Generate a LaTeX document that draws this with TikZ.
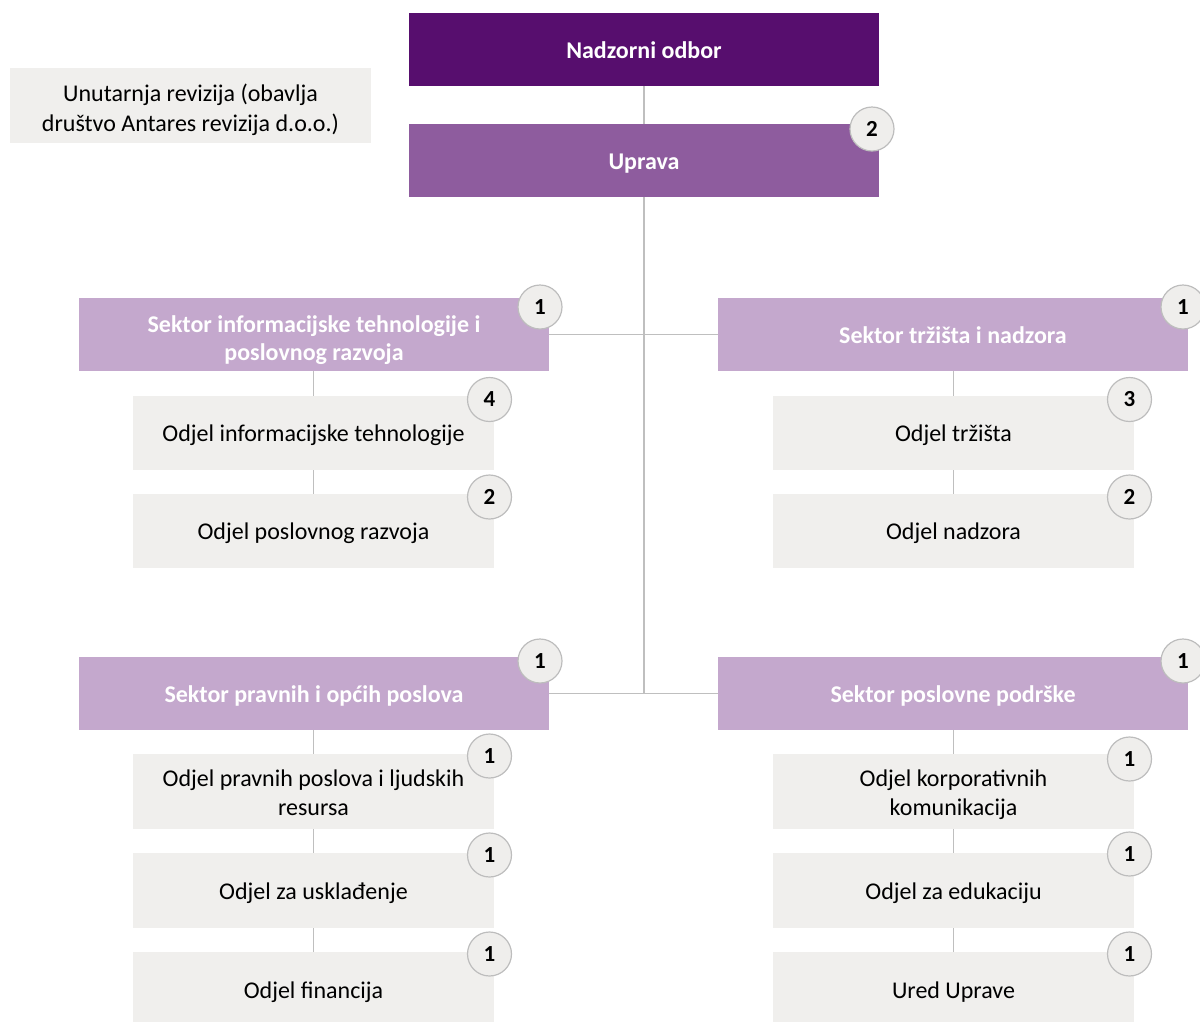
\documentclass[tikz,border=0pt]{standalone}
\usepackage{fontspec}
\setmainfont{Carlito}
\definecolor{darkp}{HTML}{570E6E}
\definecolor{midp}{HTML}{8E5C9E}
\definecolor{lightp}{HTML}{C4A8CD}
\definecolor{greybox}{HTML}{F0EFED}
\definecolor{circfill}{HTML}{EFEEEC}
\definecolor{circline}{HTML}{BDBDBD}
\definecolor{linec}{HTML}{BFBFBF}
\begin{document}
\begin{tikzpicture}[x=1pt,y=-1pt,
  topbox/.style={minimum width=470pt,minimum height=73pt,inner sep=0pt,align=center,
     text=white,font=\fontsize{24}{28}\selectfont\bfseries,text height=20pt,text depth=3pt},
  subbox/.style={fill=greybox,minimum width=361pt,minimum height=74pt,inner sep=0pt,align=center,
     font=\fontsize{24}{29}\selectfont,text height=20pt,text depth=3pt},
  twoline/.style={text height=50pt},
  badge/.style={circle,fill=circfill,draw=circline,line width=1.2pt,minimum size=44pt,inner sep=0pt,
     font=\fontsize{23}{26}\selectfont\bfseries},
  conn/.style={draw=linec,line width=1.8pt}]
\useasboundingbox (0,0) rectangle (1200,1021);
\clip (0,0) rectangle (1200,1021);
% boxes
\node[topbox,fill=darkp] (nad) at (644,49.5) {Nadzorni odbor};
\node[topbox,fill=midp] (upr) at (644,160.5) {Uprava};
\node[subbox,minimum height=75pt,font=\fontsize{24}{30}\selectfont,text height=54pt] (rev) at (190.5,105.5) {Unutarnja revizija (obavlja\\dru\v{s}tvo Antares revizija d.o.o.)};
\node[topbox,fill=lightp,text height=54pt] (sit) at (314,334.5) {Sektor informacijske tehnologije i\\poslovnog razvoja};
\node[topbox,fill=lightp] (str) at (953,334.5) {Sektor tr\v{z}i\v{s}ta i nadzora};
\node[topbox,fill=lightp] (spo) at (314,693.5) {Sektor pravnih i op\'{c}ih poslova};
\node[topbox,fill=lightp] (spp) at (953,693.5) {Sektor poslovne podr\v{s}ke};
\node[subbox] (oit) at (313.5,433) {Odjel informacijske tehnologije};
\node[subbox] (opr) at (313.5,531) {Odjel poslovnog razvoja};
\node[subbox,minimum height=75pt,twoline] (opl) at (313.5,791.5) {Odjel pravnih poslova i ljudskih\\resursa};
\node[subbox,minimum height=75pt] (ous) at (313.5,890.5) {Odjel za uskla\dj{}enje};
\node[subbox,minimum height=75pt] (ofi) at (313.5,989.5) {Odjel financija};
\node[subbox] (otr) at (953.5,433) {Odjel tr\v{z}i\v{s}ta};
\node[subbox] (ona) at (953.5,531) {Odjel nadzora};
\node[subbox,minimum height=75pt,twoline] (oko) at (953.5,791.5) {Odjel korporativnih\\komunikacija};
\node[subbox,minimum height=75pt] (oed) at (953.5,890.5) {Odjel za edukaciju};
\node[subbox,minimum height=75pt] (our) at (953.5,989.5) {Ured Uprave};
% connectors
\coordinate (trunk) at (644,693.5);
\draw[conn] (nad.south) -- (upr.north);
\draw[conn] (upr.south) -- (trunk);
\draw[conn] (sit.east) -- (str.west);
\draw[conn] (spo.east) -- (spp.west);
\draw[conn] (sit.south -| oit.north) -- (oit.north);
\draw[conn] (oit.south) -- (opr.north);
\draw[conn] (str.south -| otr.north) -- (otr.north);
\draw[conn] (otr.south) -- (ona.north);
\draw[conn] (spo.south -| opl.north) -- (opl.north);
\draw[conn] (opl.south) -- (ous.north);
\draw[conn] (ous.south) -- (ofi.north);
\draw[conn] (spp.south -| oko.north) -- (oko.north);
\draw[conn] (oko.south) -- (oed.north);
\draw[conn] (oed.south) -- (our.north);
% badges
\node[badge] (b0) at (872,129) {2};
\node[badge] (b1) at (540,307) {1};
\node[badge] (b2) at (1183,307) {1};
\node[badge] (b3) at (489.5,399.5) {4};
\node[badge] (b4) at (489.5,497) {2};
\node[badge] (b5) at (1129.5,399.5) {3};
\node[badge] (b6) at (1129.5,497) {2};
\node[badge] (b7) at (540,661) {1};
\node[badge] (b8) at (1183,661) {1};
\node[badge] (b9) at (489.5,756) {1};
\node[badge] (b10) at (489.5,855) {1};
\node[badge] (b11) at (489.5,954) {1};
\node[badge] (b12) at (1129.5,759) {1};
\node[badge] (b13) at (1129.5,854) {1};
\node[badge] (b14) at (1129.5,954) {1};
\end{tikzpicture}
\end{document}
